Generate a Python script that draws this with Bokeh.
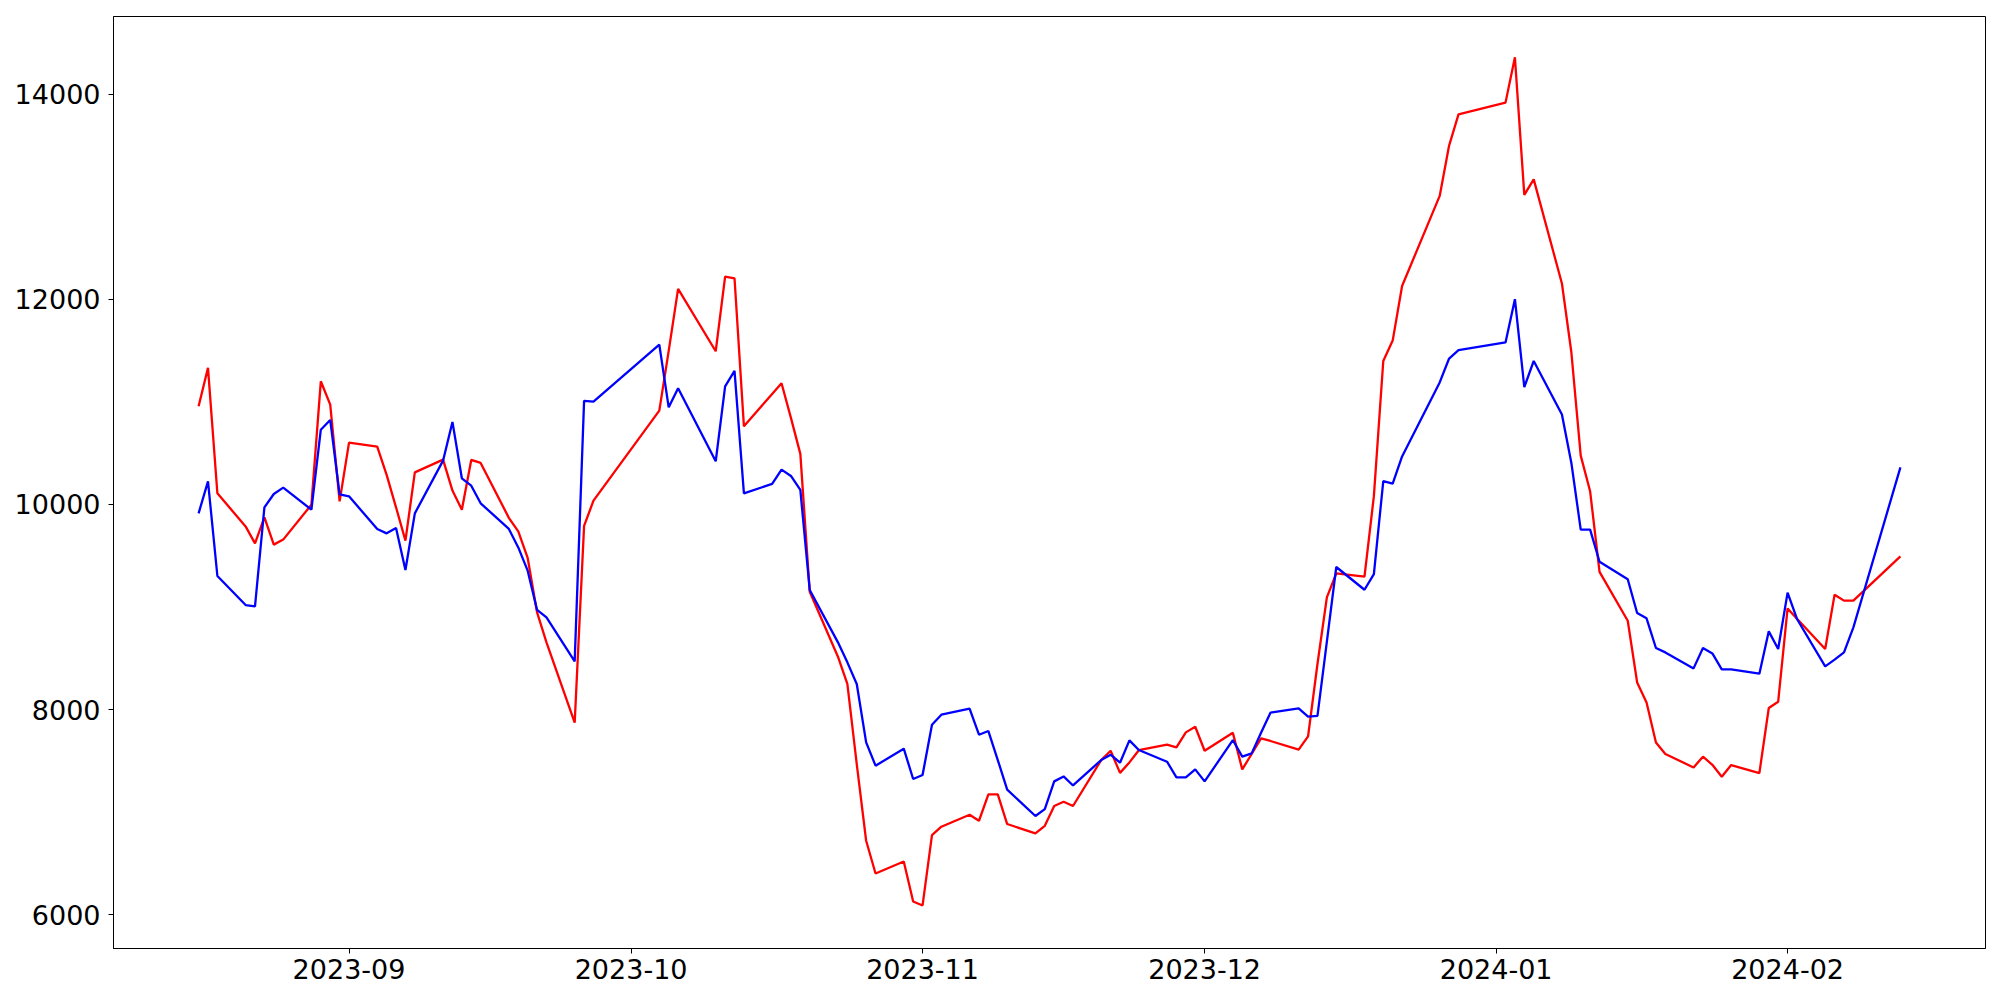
import pandas as pd
from bokeh.plotting import figure
from bokeh.models import Range1d, FixedTicker, DatetimeTickFormatter, NumeralTickFormatter, ColumnDataSource
from bokeh.embed import file_html
from bokeh.resources import INLINE

# ---- data ----
dates = [
    "2023-08-16", "2023-08-17", "2023-08-18", "2023-08-21", "2023-08-22", "2023-08-23", "2023-08-24", "2023-08-25",
    "2023-08-28", "2023-08-29", "2023-08-30", "2023-08-31",
    "2023-09-01", "2023-09-04", "2023-09-05", "2023-09-06", "2023-09-07", "2023-09-08", "2023-09-11", "2023-09-12",
    "2023-09-13", "2023-09-14", "2023-09-15", "2023-09-18", "2023-09-19", "2023-09-20", "2023-09-21", "2023-09-22",
    "2023-09-25", "2023-09-26", "2023-09-27",
    "2023-10-04", "2023-10-05", "2023-10-06", "2023-10-10", "2023-10-11", "2023-10-12", "2023-10-13", "2023-10-16",
    "2023-10-17", "2023-10-18", "2023-10-19", "2023-10-20", "2023-10-23", "2023-10-24", "2023-10-25", "2023-10-26",
    "2023-10-27", "2023-10-30", "2023-10-31",
    "2023-11-01", "2023-11-02", "2023-11-03", "2023-11-06", "2023-11-07", "2023-11-08", "2023-11-09", "2023-11-10",
    "2023-11-13", "2023-11-14", "2023-11-15", "2023-11-16", "2023-11-17", "2023-11-20", "2023-11-21", "2023-11-22",
    "2023-11-23", "2023-11-24", "2023-11-27", "2023-11-28", "2023-11-29", "2023-11-30",
    "2023-12-01", "2023-12-04", "2023-12-05", "2023-12-06", "2023-12-07", "2023-12-08", "2023-12-11", "2023-12-12",
    "2023-12-13", "2023-12-14", "2023-12-15", "2023-12-18", "2023-12-19", "2023-12-20", "2023-12-21", "2023-12-22",
    "2023-12-26", "2023-12-27", "2023-12-28",
    "2024-01-02", "2024-01-03", "2024-01-04", "2024-01-05", "2024-01-08", "2024-01-09", "2024-01-10", "2024-01-11",
    "2024-01-12", "2024-01-15", "2024-01-16", "2024-01-17", "2024-01-18", "2024-01-19", "2024-01-22", "2024-01-23",
    "2024-01-24", "2024-01-25", "2024-01-26", "2024-01-29", "2024-01-30", "2024-01-31",
    "2024-02-01", "2024-02-02", "2024-02-05", "2024-02-06", "2024-02-07", "2024-02-08", "2024-02-13",
]

red_values = [
    10957, 11332, 10108, 9786, 9620, 9874, 9608, 9657, 9998, 11201, 10974, 10030,
    10603, 10564, 10288, 9972, 9647, 10313, 10437, 10135, 9949, 10434, 10405, 9869, 9738, 9478, 8947, 8655, 7871, 9790, 10037,
    10915, 11498, 12102, 11494, 12222, 12206, 10762, 11078, 11182, 10844, 10493, 9148, 8515, 8249, 7468, 6720, 6401, 6518, 6128,
    6089, 6775, 6857, 6974, 6915, 7172, 7172, 6883, 6792, 6866, 7059, 7100, 7059, 7507, 7598, 7382, 7484, 7603, 7657, 7630, 7777, 7832,
    7598, 7774, 7416, 7566, 7718, 7693, 7608, 7738, 8444, 9094, 9328, 9297, 10081, 11399, 11598, 12131, 13009, 13500, 13804,
    13919, 14361, 13020, 13170, 12155, 11487, 10476, 10128, 9343, 8866, 8264, 8069, 7679, 7566, 7435, 7540, 7461, 7344, 7458, 7380, 8015, 8076,
    8986, 8886, 8590, 9120, 9062, 9062, 9494,
]

blue_values = [
    9913, 10225, 9302, 9019, 9006, 9972, 10102, 10164, 9949, 10729, 10824, 10099,
    10079, 9761, 9718, 9771, 9361, 9913, 10427, 10805, 10255, 10183, 10011, 9761, 9581, 9354, 8971, 8899, 8469, 11010, 11003,
    11559, 10947, 11133, 10421, 11152, 11302, 10108, 10200, 10340, 10278, 10141, 9166, 8655, 8460, 8249, 7679, 7452, 7618, 7322,
    7361, 7852, 7949, 8008, 7754, 7790, 7507, 7218, 6961, 7029, 7299, 7347, 7259, 7507, 7559, 7481, 7699, 7605, 7491, 7338, 7338, 7416,
    7299, 7702, 7540, 7572, 7774, 7969, 8011, 7930, 7937, 8661, 9390, 9168, 9320, 10228, 10202, 10468, 11190, 11423, 11504,
    11580, 12002, 11145, 11399, 10877, 10407, 9755, 9755, 9441, 9270, 8941, 8889, 8600, 8557, 8401, 8600, 8547, 8391, 8391, 8349, 8762, 8590,
    9140, 8883, 8421, 8486, 8557, 8801, 10362,
]

x_tick_labels = ["2023-09", "2023-10", "2023-11", "2023-12", "2024-01", "2024-02"]
y_ticks = [6000, 8000, 10000, 12000, 14000]

assert len(dates) == len(red_values) == len(blue_values)

# ---- figure ----
x = pd.to_datetime(dates)
src = ColumnDataSource(dict(x=x, red=red_values, blue=blue_values))

span = x[-1] - x[0]
pad = span * 0.05
x_range = Range1d(start=(x[0] - pad).to_pydatetime(), end=(x[-1] + pad).to_pydatetime())
y_range = Range1d(start=5669, end=14759)

p = figure(width=1992, height=992, x_axis_type="datetime",
           x_range=x_range, y_range=y_range,
           output_backend="svg", toolbar_location=None,
           min_border_left=113, min_border_right=7, min_border_top=16, min_border_bottom=44)

p.line("x", "red", source=src, line_color="#ff0000", line_width=2.3)
p.line("x", "blue", source=src, line_color="#0000ff", line_width=2.3)

p.grid.visible = False
p.outline_line_color = "black"
p.outline_line_width = 1
p.outline_line_alpha = 1
p.background_fill_color = "white"
p.border_fill_color = "white"

tick_ms = [pd.Timestamp(t + "-01").value // 10**6 for t in x_tick_labels]
p.xaxis.ticker = FixedTicker(ticks=tick_ms)
fmt = "%Y-%m"
p.xaxis.formatter = DatetimeTickFormatter(
    microseconds=fmt, milliseconds=fmt, seconds=fmt, minsec=fmt, minutes=fmt,
    hourmin=fmt, hours=fmt, days=fmt, months=fmt, years=fmt)
p.yaxis.ticker = FixedTicker(ticks=y_ticks)
p.yaxis.formatter = NumeralTickFormatter(format="0")

for ax in (p.xaxis[0], p.yaxis[0]):
    ax.major_label_text_font = "DejaVu Sans"
    ax.major_label_text_font_size = "27px"
    ax.major_label_text_color = "black"
    ax.axis_line_color = "black"
    ax.major_tick_line_color = "black"
    ax.major_tick_out = 5
    ax.major_tick_in = 0
    ax.minor_tick_line_color = None
p.xaxis.major_label_standoff = 5
p.yaxis.major_label_standoff = 8

open("out.html", "w").write(file_html(p, INLINE))
